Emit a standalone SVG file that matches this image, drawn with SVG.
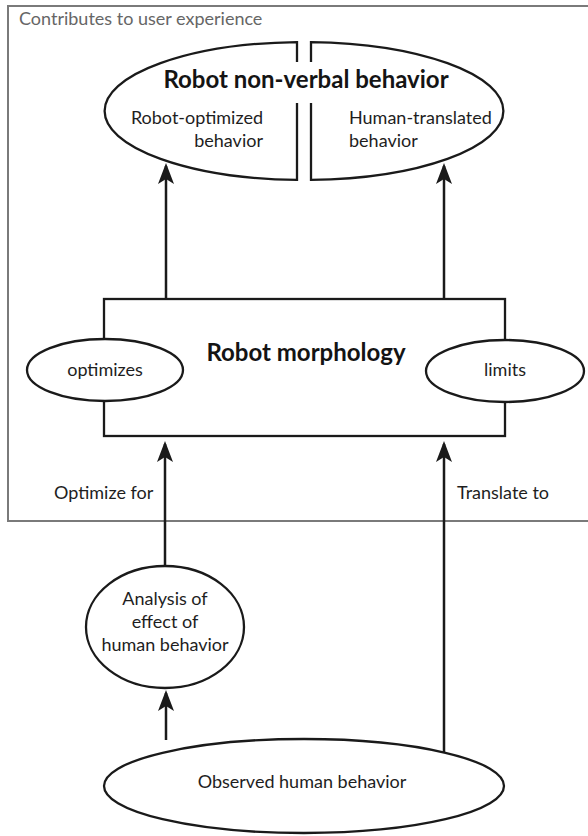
<svg xmlns="http://www.w3.org/2000/svg" width="588" height="836" viewBox="0 0 588 836">
  <style>
    .shape { fill: #ffffff; stroke: #1a1a1a; stroke-width: 2.3; }
    .open { fill: none; stroke: #1a1a1a; stroke-width: 2.3; }
    .conn { fill: none; stroke: #1a1a1a; stroke-width: 2.5; marker-end: url(#arrow); }
    .t { font-family: Lato, "Liberation Sans", sans-serif; fill: #1e1e1e; font-size: 18px; }
    .tb { font-family: Lato, "Liberation Sans", sans-serif; fill: #141414; font-size: 24px; font-weight: bold; }
    .mid { text-anchor: middle; }
    .end { text-anchor: end; }
    .frame-label { font-family: Lato, "Liberation Sans", sans-serif; fill: #666666; font-size: 18px; }
  </style>
  <defs>
    <marker id="arrow" markerUnits="userSpaceOnUse" viewBox="-24 -9 25 18" markerWidth="25" markerHeight="18" refX="-3" refY="0" orient="auto">
      <path d="M0,0 L-21,-8 L-16,0 L-21,8 Z" fill="#1a1a1a"/>
    </marker>
  </defs>

  <rect width="588" height="836" fill="#ffffff"/>

  <g id="frame">
    <rect x="8" y="6" width="600" height="515" fill="none" stroke="#7a7a7a" stroke-width="2"/>
    <text class="frame-label" x="19" y="25">Contributes to user experience</text>
  </g>

  <g id="connectors">
    <line class="conn" x1="166" y1="299" x2="166" y2="166"/>
    <line class="conn" x1="444" y1="299" x2="444" y2="166"/>
    <line class="conn" x1="165" y1="566" x2="165" y2="444"/>
    <line class="conn" x1="444" y1="752" x2="444" y2="444"/>
    <line class="conn" x1="166" y1="740" x2="166" y2="693"/>
  </g>

  <g id="robot-nonverbal-behavior">
    <path class="open" d="M297,62 L297,42.05 A200,69 0 0 0 297,179.95 L297,103"/>
    <path class="open" d="M311,62 L311,42.05 A200,69 0 0 1 311,179.95 L311,103"/>
    <text class="tb mid" x="306" y="88">Robot non-verbal behavior</text>
    <text class="t end" x="263" y="124">Robot-optimized</text>
    <text class="t end" x="263" y="147">behavior</text>
    <text class="t" x="349" y="124">Human-translated</text>
    <text class="t" x="349" y="147">behavior</text>
  </g>

  <g id="robot-morphology">
    <rect class="shape" x="104" y="299" width="401" height="137"/>
    <text class="tb mid" x="306" y="361">Robot morphology</text>
  </g>

  <g id="optimizes">
    <ellipse class="shape" cx="105" cy="370" rx="78" ry="31"/>
    <text class="t mid" x="105" y="376">optimizes</text>
  </g>

  <g id="limits">
    <ellipse class="shape" cx="505" cy="371" rx="79" ry="31"/>
    <text class="t mid" x="505" y="376">limits</text>
  </g>

  <g id="label-optimize-for">
    <text class="t" x="54" y="499">Optimize for</text>
  </g>
  <g id="label-translate-to">
    <text class="t" x="457" y="499">Translate to</text>
  </g>

  <g id="analysis">
    <ellipse class="shape" cx="165" cy="627" rx="79" ry="61"/>
    <text class="t mid" x="165" y="605">Analysis of</text>
    <text class="t mid" x="165" y="628">effect of</text>
    <text class="t mid" x="165" y="651">human behavior</text>
  </g>

  <g id="observed-human-behavior">
    <ellipse class="shape" cx="304" cy="786" rx="200" ry="47"/>
    <text class="t mid" x="302" y="788">Observed human behavior</text>
  </g>
</svg>
